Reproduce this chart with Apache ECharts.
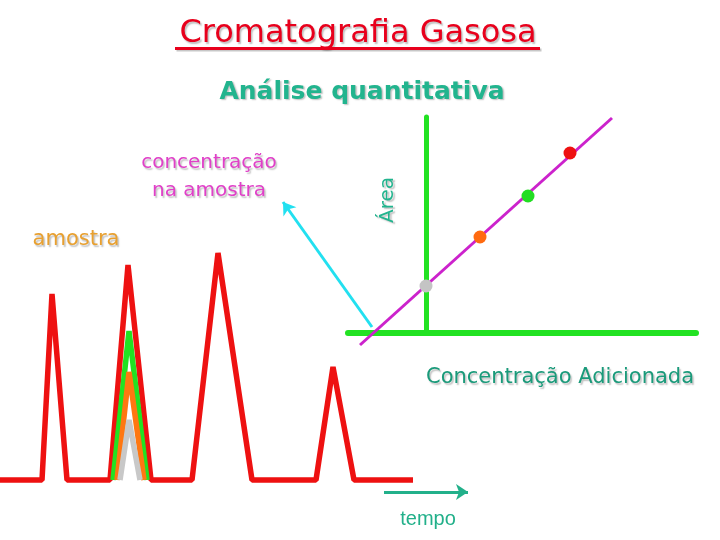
<!DOCTYPE html>
<html><head><meta charset="utf-8">
<script src="https://cdn.jsdelivr.net/npm/echarts@6/dist/echarts.min.js"></script>
<style>html,body{margin:0;padding:0;background:#fff}#c{width:720px;height:540px}</style>
</head><body><div id="c"></div>
<script>
// ---- Chromatogram (time, detector signal; arbitrary units) ----
const sampleTime   = [0, 4.2, 5.2, 6.7, 11.0, 12.8, 15.1, 19.2, 21.8, 25.2, 31.6, 33.3, 35.4, 41.3];
const sampleSignal = [0, 0, 18.6, 0, 0, 21.5, 0, 0, 22.7, 0, 0, 11.3, 0, 0];
const greenPeakTime    = [11.3, 12.9, 14.7];
const greenPeakSignal  = [0, 14.9, 0];
const orangePeakTime   = [11.7, 12.9, 14.4];
const orangePeakSignal = [0, 10.8, 0];
const grayPeakTime     = [12.0, 12.9, 14.0];
const grayPeakSignal   = [0, 6.0, 0];
const timeArrowTime    = [38.4, 46.8];
const timeArrowSignal  = [-1.2, -1.2];

// ---- Standard addition plot (added concentration vs area) ----
const addedConc   = [0, 2.7, 5.1, 7.2];
const peakArea    = [2.35, 4.8, 6.85, 9.0];
const pointColors = ['#c4c4c4', '#ff6a10', '#22dd22', '#ee1111'];
const fitConc     = [-3.3, 9.3];
const fitArea     = [-0.6, 10.75];
const pointerConc = [-2.7, -7.15];
const pointerArea = [0.3, 6.55];

// ---- Texts ----
const titleText    = 'Cromatografia Gasosa';
const subtitleText = 'Análise quantitativa';
const concLabel    = 'concentração\nna amostra';
const sampleLabel  = 'amostra';
const areaLabel    = 'Área';
const addedLabel   = 'Concentração Adicionada';
const timeLabel    = 'tempo';

const zip = (a, b) => a.map((v, i) => [v, b[i]]);
const FONT = '"DejaVu Sans", sans-serif';
const shadow = {textShadowColor: 'rgba(0,0,0,0.25)', textShadowOffsetX: 1.5, textShadowOffsetY: 1.5, textShadowBlur: 1.5};

function peakSeries(t, s, color) {
  return {type: 'line', xAxisIndex: 0, yAxisIndex: 0, data: zip(t, s), symbol: 'none', silent: true,
    clip: false, lineStyle: {color, width: 5.5, join: 'bevel', cap: 'butt'}};
}

const chart = echarts.init(document.getElementById('c'), null, {renderer: 'canvas'});
chart.setOption({
  animation: false,
  backgroundColor: '#ffffff',
  grid: [
    {left: 0, top: 240, width: 420, height: 240},
    {left: 348, top: 117, width: 348, height: 216}
  ],
  xAxis: [
    {gridIndex: 0, type: 'value', min: 0, max: 42, show: false},
    {gridIndex: 1, type: 'value', min: -3.9, max: 13.5, axisLine: {show: true, onZero: true, lineStyle: {color: '#22e222', width: 6}},
     axisTick: {show: false}, axisLabel: {show: false}, splitLine: {show: false}}
  ],
  yAxis: [
    {gridIndex: 0, type: 'value', min: 0, max: 24, show: false},
    {gridIndex: 1, type: 'value', min: 0, max: 10.8, axisLine: {show: true, onZero: true, lineStyle: {color: '#22e222', width: 5}},
     axisTick: {show: false}, axisLabel: {show: false}, splitLine: {show: false}}
  ],
  series: [
    peakSeries(sampleTime, sampleSignal, '#ee1111'),
    peakSeries(greenPeakTime, greenPeakSignal, '#22e222'),
    peakSeries(orangePeakTime, orangePeakSignal, '#ff7711'),
    peakSeries(grayPeakTime, grayPeakSignal, '#c8c8c8'),
    {type: 'lines', coordinateSystem: 'cartesian2d', xAxisIndex: 0, yAxisIndex: 0, clip: false, silent: true,
     symbol: ['none', 'arrow'], symbolSize: [9, 12],
     lineStyle: {color: '#22b08a', width: 3, opacity: 1, curveness: 0},
     data: [{coords: zip(timeArrowTime, timeArrowSignal)}]},
    {type: 'line', xAxisIndex: 1, yAxisIndex: 1, data: zip(fitConc, fitArea), symbol: 'none', clip: false, silent: true,
     lineStyle: {color: '#cc22cc', width: 3}, z: 3},
    {type: 'lines', coordinateSystem: 'cartesian2d', xAxisIndex: 1, yAxisIndex: 1, clip: false, silent: true,
     symbol: ['none', 'arrow'], symbolSize: [9, 12],
     lineStyle: {color: '#22e0f0', width: 3, opacity: 1, curveness: 0},
     data: [{coords: zip(pointerConc, pointerArea)}]},
    {type: 'scatter', xAxisIndex: 1, yAxisIndex: 1, symbolSize: 13, silent: true, z: 4,
     data: addedConc.map((c, i) => ({value: [c, peakArea[i]], itemStyle: {color: pointColors[i], opacity: 1}}))}
  ],
  graphic: [
    {type: 'text', x: 358, y: 34, z: 10, style: Object.assign({text: titleText, fill: '#e8001c', font: '32px ' + FONT, align: 'center', verticalAlign: 'middle'}, shadow)},
    {type: 'line', z: 9, shape: {x1: 176.5, y1: 50, x2: 541.5, y2: 50}, style: {stroke: 'rgba(0,0,0,0.22)', lineWidth: 3}},
    {type: 'line', z: 10, shape: {x1: 175, y1: 48.5, x2: 540, y2: 48.5}, style: {stroke: '#e8001c', lineWidth: 3}},
    {type: 'text', x: 362, y: 92, z: 10, style: Object.assign({text: subtitleText, fill: '#22b48e', font: 'bold 25px ' + FONT, align: 'center', verticalAlign: 'middle'}, shadow)},
    {type: 'text', x: 209, y: 177, z: 10, style: Object.assign({text: concLabel, fill: '#e040c8', font: '20px ' + FONT, align: 'center', verticalAlign: 'middle', lineHeight: 28}, shadow)},
    {type: 'text', x: 76, y: 240, z: 10, style: Object.assign({text: sampleLabel, fill: '#e8a030', font: '21px ' + FONT, align: 'center', verticalAlign: 'middle'}, shadow)},
    {type: 'text', x: 388, y: 200, rotation: Math.PI / 2, z: 10, style: Object.assign({text: areaLabel, fill: '#22b48e', font: '20px ' + FONT, align: 'center', verticalAlign: 'middle'}, shadow)},
    {type: 'text', x: 560, y: 378, z: 10, style: Object.assign({text: addedLabel, fill: '#1a9a7a', font: '21px ' + FONT, align: 'center', verticalAlign: 'middle'}, shadow)},
    {type: 'text', x: 428, y: 519, z: 10, style: {text: timeLabel, fill: '#22b08a', font: '20px "Liberation Sans", Arial, sans-serif', align: 'center', verticalAlign: 'middle'}}
  ]
});
</script>
</body></html>
